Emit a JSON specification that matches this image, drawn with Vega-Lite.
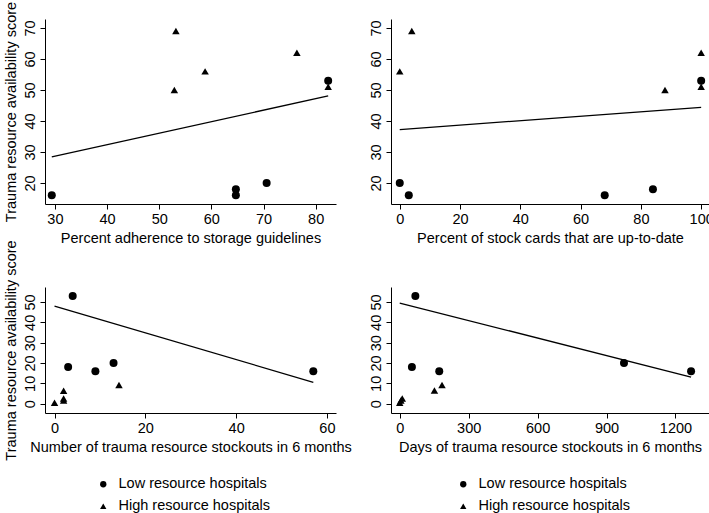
{
  "$schema": "https://vega.github.io/schema/vega-lite/v6.json",
  "background": "white",
  "padding": {"left": 2, "top": 1, "right": 0, "bottom": 0},
  "config": {
    "font": "Liberation Sans",
    "view": {"stroke": null},
    "axis": {
      "grid": false,
      "domainColor": "black",
      "domainWidth": 1,
      "tickColor": "black",
      "tickSize": 5,
      "labelColor": "black",
      "titleColor": "black",
      "labelFont": "Liberation Sans",
      "titleFont": "Liberation Sans",
      "labelFontSize": 14.5,
      "titleFontSize": 14.5,
      "titleFontWeight": "normal",
      "labelFlush": false,
      "labelOverlap": false,
      "format": "d"
    },
    "axisY": {"labelAngle": -90, "labelAlign": "center", "labelBaseline": "bottom", "labelPadding": 3, "titlePadding": 4},
    "axisX": {"labelPadding": 3, "titlePadding": 6},
    "legend": {
      "labelFont": "Liberation Sans",
      "labelFontSize": 14.5,
      "labelColor": "black",
      "symbolSize": 40,
      "labelOffset": 8,
      "rowPadding": 7
    }
  },
  "datasets": {
    "p1": [
      {"x": 29.4, "y": 16, "group": "Low resource hospitals"},
      {"x": 64.7, "y": 18, "group": "Low resource hospitals"},
      {"x": 64.7, "y": 16, "group": "Low resource hospitals"},
      {"x": 70.6, "y": 20, "group": "Low resource hospitals"},
      {"x": 82.4, "y": 53, "group": "Low resource hospitals"},
      {"x": 53.2, "y": 69, "group": "High resource hospitals"},
      {"x": 52.9, "y": 50, "group": "High resource hospitals"},
      {"x": 58.8, "y": 56, "group": "High resource hospitals"},
      {"x": 76.4, "y": 62, "group": "High resource hospitals"},
      {"x": 82.4, "y": 51, "group": "High resource hospitals"}
    ],
    "p1fit": [{"x": 29.4, "y": 28.4}, {"x": 82.4, "y": 48.1}],
    "p2": [
      {"x": 0, "y": 20, "group": "Low resource hospitals"},
      {"x": 3, "y": 16, "group": "Low resource hospitals"},
      {"x": 68, "y": 16, "group": "Low resource hospitals"},
      {"x": 84, "y": 18, "group": "Low resource hospitals"},
      {"x": 100, "y": 53, "group": "Low resource hospitals"},
      {"x": 0, "y": 56, "group": "High resource hospitals"},
      {"x": 4, "y": 69, "group": "High resource hospitals"},
      {"x": 88, "y": 50, "group": "High resource hospitals"},
      {"x": 100, "y": 62, "group": "High resource hospitals"},
      {"x": 100, "y": 51, "group": "High resource hospitals"}
    ],
    "p2fit": [{"x": 0, "y": 37.2}, {"x": 100, "y": 44.4}],
    "p3": [
      {"x": 4, "y": 53, "group": "Low resource hospitals"},
      {"x": 3, "y": 18, "group": "Low resource hospitals"},
      {"x": 9, "y": 16, "group": "Low resource hospitals"},
      {"x": 13, "y": 20, "group": "Low resource hospitals"},
      {"x": 57, "y": 16, "group": "Low resource hospitals"},
      {"x": 0, "y": 0.5, "group": "High resource hospitals"},
      {"x": 2, "y": 6.3, "group": "High resource hospitals"},
      {"x": 2, "y": 2.5, "group": "High resource hospitals"},
      {"x": 2, "y": 1.5, "group": "High resource hospitals"},
      {"x": 14.2, "y": 9.2, "group": "High resource hospitals"}
    ],
    "p3fit": [{"x": 0, "y": 48}, {"x": 57, "y": 10.5}],
    "p4": [
      {"x": 68, "y": 53, "group": "Low resource hospitals"},
      {"x": 53, "y": 18, "group": "Low resource hospitals"},
      {"x": 172, "y": 16, "group": "Low resource hospitals"},
      {"x": 976, "y": 20, "group": "Low resource hospitals"},
      {"x": 1268, "y": 16, "group": "Low resource hospitals"},
      {"x": 0, "y": 0.5, "group": "High resource hospitals"},
      {"x": 11, "y": 2.5, "group": "High resource hospitals"},
      {"x": 5, "y": 1.5, "group": "High resource hospitals"},
      {"x": 151, "y": 6.5, "group": "High resource hospitals"},
      {"x": 184, "y": 9.2, "group": "High resource hospitals"}
    ],
    "p4fit": [{"x": 0, "y": 49.5}, {"x": 1268, "y": 13.1}]
  },
  "columns": 2,
  "bounds": "flush",
  "spacing": {"row": 83, "column": 55},
  "resolve": {"scale": {"shape": "independent"}, "legend": {"shape": "independent"}},
  "concat": [
    {
      "width": 291,
      "height": 185,
      "encoding": {
        "x": {"field": "x", "type": "quantitative", "scale": {"domain": [28.1, 83.9], "nice": false, "zero": false}, "axis": {"values": [30, 40, 50, 60, 70, 80], "title": "Percent adherence to storage guidelines"}},
        "y": {"field": "y", "type": "quantitative", "scale": {"domain": [13.2, 72.9], "nice": false, "zero": false}, "axis": {"values": [20, 30, 40, 50, 60, 70], "tickCount": 6, "title": "Trauma resource availability score"}}
      },
      "layer": [
        {
          "data": {"name": "p1fit"},
          "mark": {"type": "line", "color": "black", "strokeWidth": 1.3}
        },
        {
          "data": {"name": "p1"},
          "mark": {"type": "point", "filled": true, "color": "black", "opacity": 1},
          "encoding": {
            "shape": {"field": "group", "type": "nominal", "scale": {"domain": ["Low resource hospitals", "High resource hospitals"], "range": ["circle", "triangle-up"]}, "legend": null},
            "size": {"condition": {"test": "datum.group === 'Low resource hospitals'", "value": 64}, "value": 56}
          }
        }
      ]
    },
    {
      "width": 318,
      "height": 185,
      "encoding": {
        "x": {"field": "x", "type": "quantitative", "scale": {"domain": [-2.9, 102.6], "nice": false, "zero": false}, "axis": {"values": [0, 20, 40, 60, 80, 100], "title": "Percent of stock cards that are up-to-date"}},
        "y": {"field": "y", "type": "quantitative", "scale": {"domain": [13.2, 72.9], "nice": false, "zero": false}, "axis": {"values": [20, 30, 40, 50, 60, 70], "tickCount": 6, "title": null}}
      },
      "layer": [
        {
          "data": {"name": "p2fit"},
          "mark": {"type": "line", "color": "black", "strokeWidth": 1.3}
        },
        {
          "data": {"name": "p2"},
          "mark": {"type": "point", "filled": true, "color": "black", "opacity": 1},
          "encoding": {
            "shape": {"field": "group", "type": "nominal", "scale": {"domain": ["Low resource hospitals", "High resource hospitals"], "range": ["circle", "triangle-up"]}, "legend": null},
            "size": {"condition": {"test": "datum.group === 'Low resource hospitals'", "value": 64}, "value": 56}
          }
        }
      ]
    },
    {
      "width": 291,
      "height": 126,
      "encoding": {
        "x": {"field": "x", "type": "quantitative", "scale": {"domain": [-2.1, 62], "nice": false, "zero": false}, "axis": {"values": [0, 20, 40, 60], "title": "Number of trauma resource stockouts in 6 months"}},
        "y": {"field": "y", "type": "quantitative", "scale": {"domain": [-4.6, 57.4], "nice": false, "zero": false}, "axis": {"values": [0, 10, 20, 30, 40, 50], "tickCount": 6, "title": "Trauma resource availability score"}}
      },
      "layer": [
        {
          "data": {"name": "p3fit"},
          "mark": {"type": "line", "color": "black", "strokeWidth": 1.3}
        },
        {
          "data": {"name": "p3"},
          "mark": {"type": "point", "filled": true, "color": "black", "opacity": 1},
          "encoding": {
            "shape": {"field": "group", "type": "nominal", "scale": {"domain": ["Low resource hospitals", "High resource hospitals"], "range": ["circle", "triangle-up"]}, "legend": {"title": null, "orient": "none", "legendX": 51, "legendY": 190}},
            "size": {"condition": {"test": "datum.group === 'Low resource hospitals'", "value": 64}, "value": 56}
          }
        }
      ]
    },
    {
      "width": 318,
      "height": 126,
      "encoding": {
        "x": {"field": "x", "type": "quantitative", "scale": {"domain": [-38, 1346], "nice": false, "zero": false}, "axis": {"values": [0, 300, 600, 900, 1200], "title": "Days of trauma resource stockouts in 6 months"}},
        "y": {"field": "y", "type": "quantitative", "scale": {"domain": [-4.6, 57.4], "nice": false, "zero": false}, "axis": {"values": [0, 10, 20, 30, 40, 50], "tickCount": 6, "title": null}}
      },
      "layer": [
        {
          "data": {"name": "p4fit"},
          "mark": {"type": "line", "color": "black", "strokeWidth": 1.3}
        },
        {
          "data": {"name": "p4"},
          "mark": {"type": "point", "filled": true, "color": "black", "opacity": 1},
          "encoding": {
            "shape": {"field": "group", "type": "nominal", "scale": {"domain": ["Low resource hospitals", "High resource hospitals"], "range": ["circle", "triangle-up"]}, "legend": {"title": null, "orient": "none", "legendX": 65, "legendY": 190}},
            "size": {"condition": {"test": "datum.group === 'Low resource hospitals'", "value": 64}, "value": 56}
          }
        }
      ]
    }
  ]
}
